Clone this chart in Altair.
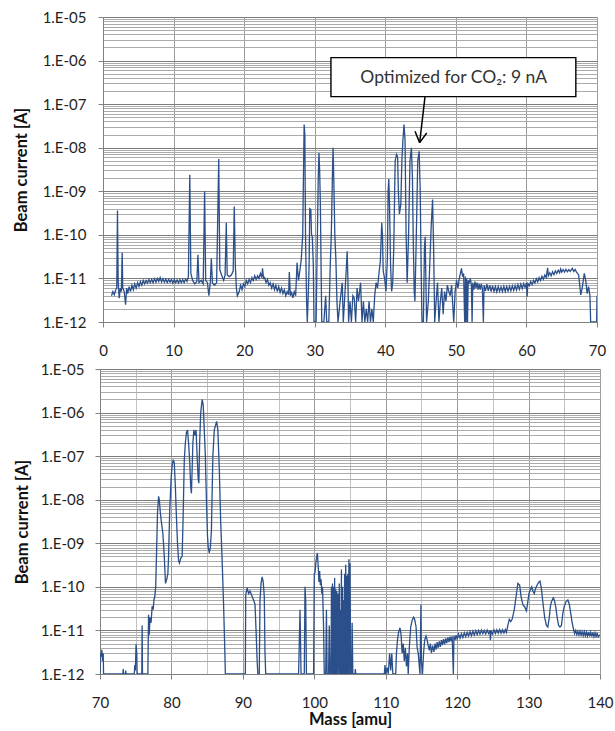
import altair as alt
import pandas as pd

# ---------------- data ----------------
# upper panel trace: (mass [amu], beam current [A])
top_trace = [
    (1.2, 4.0e-12), (1.4, 5.0e-12), (1.6, 4.2e-12), (1.8, 5.5e-12), (1.95, 6e-12), (2.05, 3.6e-10),
    (2.15, 8e-12), (2.3, 3.5e-12), (2.45, 6e-12), (2.6, 5e-12), (2.72, 3.9e-11), (2.8, 6e-12),
    (3.0, 5e-12), (3.2, 2.5e-12), (3.35, 6e-12), (3.5, 4.5e-12), (3.7, 6.5e-12), (3.9, 5e-12),
    (4.1, 7e-12), (4.3, 5.5e-12), (4.5, 7.5e-12), (4.7, 6e-12), (4.9, 8e-12), (5.1, 6.5e-12),
    (5.3, 8.5e-12), (5.5, 7e-12), (5.7, 9e-12), (5.9, 7.5e-12), (6.1, 9e-12), (6.3, 7.8e-12),
    (6.5, 9.5e-12), (6.7, 8e-12), (6.9, 9.5e-12), (7.1, 8e-12), (7.3, 9.8e-12), (7.5, 8.2e-12),
    (7.7, 1.0e-11), (7.9, 8.5e-12), (8.1, 1.05e-11), (8.3, 8.3e-12), (8.5, 9.8e-12), (8.7, 8.2e-12),
    (8.9, 9.6e-12), (9.1, 8e-12), (9.3, 9.5e-12), (9.5, 8.2e-12), (9.7, 9.4e-12), (9.9, 7.8e-12),
    (10.1, 9.5e-12), (10.3, 8e-12), (10.5, 9.2e-12), (10.7, 7.8e-12), (10.9, 9.4e-12), (11.1, 8e-12),
    (11.3, 9.3e-12), (11.5, 8e-12), (11.7, 9.6e-12), (11.9, 8.5e-12), (12.1, 1.1e-11), (12.3, 2.4e-9),
    (12.45, 1.3e-11), (12.7, 9e-12), (13.0, 7.5e-12), (13.3, 8.5e-12), (13.45, 3.5e-11), (13.6, 8e-12),
    (13.9, 9e-12), (14.2, 7.5e-12), (14.4, 1.0e-9), (14.55, 9e-12), (14.8, 8e-12), (15.0, 4e-12),
    (15.2, 8e-12), (15.35, 2.9e-11), (15.5, 8e-12), (15.8, 7e-12), (16.1, 8e-12), (16.4, 5.5e-9),
    (16.55, 1.6e-11), (16.8, 1.2e-11), (17.1, 9e-12), (17.3, 1.2e-11), (17.47, 1.9e-10), (17.6, 1.2e-11),
    (17.9, 1.1e-11), (18.2, 1.2e-11), (18.45, 1.5e-11), (18.6, 4.5e-10), (18.75, 2e-11), (18.9, 6e-12),
    (19.04, 4e-12), (19.3, 5e-12), (19.5, 7e-12), (19.7, 5.5e-12), (19.9, 7.5e-12), (20.1, 6.5e-12),
    (20.3, 9e-12), (20.5, 7.5e-12), (20.7, 9.5e-12), (20.9, 8e-12), (21.1, 1.05e-11), (21.3, 9e-12),
    (21.5, 1.15e-11), (21.7, 9.5e-12), (21.9, 1.15e-11), (22.1, 1e-11), (22.3, 1.3e-11), (22.5, 1.05e-11),
    (22.6, 1.7e-11), (22.75, 1e-11), (22.9, 1.05e-11), (23.1, 8e-12), (23.3, 9.5e-12), (23.5, 7e-12),
    (23.7, 8e-12), (23.9, 6e-12), (24.1, 7.5e-12), (24.3, 5.5e-12), (24.5, 7e-12), (24.7, 5e-12),
    (24.9, 6.5e-12), (25.1, 4.8e-12), (25.3, 6e-12), (25.5, 4.5e-12), (25.7, 5.5e-12), (25.9, 4e-12),
    (26.1, 5e-12), (26.3, 4.2e-12), (26.4, 1.4e-11), (26.55, 4e-12), (26.7, 5e-12), (26.9, 3.6e-12),
    (27.1, 5e-12), (27.3, 4e-12), (27.5, 2.3e-11), (27.7, 9e-12), (27.9, 1.5e-11), (28.1, 2.8e-11),
    (28.3, 1e-10), (28.5, 3.4e-8), (28.6, 2e-8), (28.7, 9e-11), (28.85, 3e-12), (28.95, 1e-12),
    (29.1, 5e-12), (29.2, 1.9e-11), (29.3, 4e-10), (29.45, 3.8e-10), (29.55, 1e-10), (29.66, 9e-11),
    (29.8, 2e-11), (29.9, 1e-12), (30.2, 1e-12), (30.35, 5e-11), (30.5, 2e-9), (30.6, 7.6e-9),
    (30.7, 3e-9), (30.8, 5e-10), (30.9, 2e-11), (31.0, 1e-12), (31.3, 1e-12), (31.55, 4e-12),
    (31.7, 1e-12), (32.0, 1e-12), (32.2, 2e-11), (32.35, 1e-10), (32.5, 2e-9), (32.6, 1e-8),
    (32.7, 2e-9), (32.85, 1e-10), (33.0, 2.7e-11), (33.15, 3e-12), (33.3, 1e-12), (33.6, 3e-12),
    (33.9, 8e-12), (34.05, 1e-12), (34.3, 5e-12), (34.5, 2e-11), (34.6, 4.2e-11), (34.7, 1e-11),
    (34.8, 1e-12), (35.0, 3e-12), (35.2, 1e-12), (35.4, 4e-12), (35.6, 3.5e-12), (35.8, 1e-12),
    (36.0, 6e-12), (36.2, 3e-12), (36.5, 8e-12), (36.7, 1e-12), (36.9, 3e-12), (37.1, 1e-12),
    (37.3, 2e-12), (37.5, 1e-12), (37.7, 3e-12), (37.9, 1e-12), (38.1, 2e-12), (38.3, 1e-12),
    (38.5, 4e-12), (38.7, 8e-12), (38.9, 6e-12), (39.1, 1.3e-11), (39.3, 2.5e-11), (39.5, 1.9e-10),
    (39.6, 1e-10), (39.7, 1.5e-11), (39.9, 1e-11), (40.1, 5e-12), (40.3, 3e-11), (40.4, 1e-9),
    (40.5, 1.9e-9), (40.6, 5e-10), (40.75, 2e-11), (40.9, 5e-12), (41.05, 8e-12), (41.2, 5e-11),
    (41.4, 5e-9), (41.6, 7e-9), (41.75, 6e-9), (41.85, 1e-9), (42.0, 3e-10), (42.2, 5e-10),
    (42.35, 5e-9), (42.5, 1.5e-8), (42.65, 3.4e-8), (42.8, 1.5e-8), (42.95, 1e-10), (43.1, 8e-12),
    (43.3, 1e-10), (43.5, 5e-9), (43.7, 1e-8), (43.85, 2e-9), (43.95, 1e-10), (44.1, 5e-12),
    (44.2, 3e-12), (44.4, 1e-10), (44.6, 5e-9), (44.8, 8.3e-9), (44.95, 1e-9), (45.1, 1e-11),
    (45.2, 1e-12), (45.4, 1e-12), (45.55, 5e-11), (45.65, 9e-11), (45.75, 1e-11), (45.85, 1e-12),
    (46.1, 3e-12), (46.3, 2e-11), (46.5, 1.5e-10), (46.7, 6.5e-10), (46.85, 5e-11), (47.0, 1e-12),
    (47.2, 3e-12), (47.4, 8e-12), (47.6, 1e-12), (47.8, 3e-12), (48.0, 6e-12), (48.2, 1.5e-12),
    (48.4, 5e-12), (48.6, 3e-12), (48.8, 7e-12), (49.0, 5e-12), (49.2, 4e-12), (49.4, 7e-12),
    (49.7, 1e-12), (49.9, 5e-12), (50.1, 9e-12), (50.3, 6e-12), (50.45, 9.3e-12), (50.6, 1.2e-11),
    (50.8, 1.7e-11), (50.95, 1.1e-11), (51.1, 1.3e-11), (51.25, 1e-12), (51.35, 1.1e-11), (51.45, 1e-12),
    (51.55, 1e-11), (51.65, 1e-12), (51.75, 9e-12), (51.9, 8e-12), (52.05, 1e-11), (52.2, 7e-12),
    (52.3, 1e-12), (52.4, 8e-12), (52.55, 5.5e-12), (52.7, 8.5e-12), (52.85, 6e-12), (53.0, 8e-12),
    (53.15, 5.5e-12), (53.3, 7.5e-12), (53.45, 5.5e-12), (53.6, 7.5e-12), (53.75, 6e-12), (53.9, 1e-12),
    (54.0, 7e-12), (54.2, 5.2e-12), (54.4, 7.4e-12), (54.6, 5.2e-12), (54.8, 7e-12), (55.0, 5e-12),
    (55.2, 6.8e-12), (55.4, 5e-12), (55.6, 6.5e-12), (55.8, 4.9e-12), (56.0, 6.5e-12), (56.2, 5e-12),
    (56.4, 6.4e-12), (56.6, 5e-12), (56.8, 6.6e-12), (57.0, 5e-12), (57.2, 6.5e-12), (57.4, 5.1e-12),
    (57.6, 6.6e-12), (57.8, 5.2e-12), (58.0, 6.8e-12), (58.2, 5.3e-12), (58.4, 6.9e-12), (58.6, 5.4e-12),
    (58.8, 7.2e-12), (59.0, 5.6e-12), (59.2, 7.4e-12), (59.4, 5.8e-12), (59.6, 7.6e-12), (59.8, 6.2e-12),
    (60.0, 7.8e-12), (60.1, 3.8e-12), (60.2, 7.6e-12), (60.4, 6.8e-12), (60.6, 8.5e-12), (60.8, 7.2e-12),
    (61.0, 9e-12), (61.2, 7.8e-12), (61.4, 9.8e-12), (61.6, 8.3e-12), (61.8, 1.05e-11), (62.0, 9e-12),
    (62.2, 1.12e-11), (62.4, 9.6e-12), (62.6, 1.2e-11), (62.8, 1.05e-11), (63.0, 1.75e-11), (63.1, 1.15e-11),
    (63.3, 1.35e-11), (63.5, 1.15e-11), (63.7, 1.42e-11), (63.9, 1.22e-11), (64.1, 1.5e-11), (64.3, 1.3e-11),
    (64.5, 1.55e-11), (64.7, 1.35e-11), (64.85, 1.65e-11), (65.0, 1.4e-11), (65.2, 1.6e-11), (65.4, 1.4e-11),
    (65.6, 1.62e-11), (65.8, 1.42e-11), (66.0, 1.6e-11), (66.2, 1.45e-11), (66.5, 1.7e-11), (66.7, 1.45e-11),
    (66.9, 1.6e-11), (67.1, 1.4e-11), (67.4, 1.2e-11), (67.7, 4.2e-12), (67.9, 6e-12), (68.2, 1.3e-11),
    (68.4, 9e-12), (68.6, 4.5e-12), (68.8, 6.5e-12), (69.0, 4e-12), (69.1, 1e-12), (69.95, 1e-12),
    (70.0, 4e-12),
]

# lower panel trace: (mass [amu], beam current [A])
bottom_trace = [
    (70.0, 1e-12), (70.05, 3e-12), (70.15, 2.5e-12), (70.25, 3.6e-12), (70.35, 2e-12), (70.45, 3e-12),
    (70.5, 1e-12), (73.2, 1e-12), (73.25, 1.3e-12), (73.3, 1e-12), (73.55, 1e-12), (73.6, 1.2e-12),
    (73.65, 1e-12), (74.8, 1e-12), (74.87, 1.6e-12), (74.95, 1.2e-12), (75.05, 4.8e-12), (75.15, 3e-12),
    (75.2, 1e-12), (75.85, 1e-12), (75.9, 1.3e-11), (75.95, 1e-12), (76.7, 1e-12), (76.8, 2.3e-11),
    (76.9, 8e-12), (77.0, 2e-11), (77.15, 1.5e-11), (77.3, 3.6e-11), (77.45, 3e-11), (77.55, 5e-11),
    (77.67, 6e-11), (77.8, 1e-10), (77.95, 1e-9), (78.05, 5e-9), (78.2, 1.2e-8), (78.3, 1e-8),
    (78.45, 5e-9), (78.6, 3e-9), (78.8, 1.7e-9), (79.0, 5e-10), (79.17, 1.2e-10), (79.35, 1.5e-10),
    (79.5, 2e-10), (79.6, 5e-10), (79.75, 5e-9), (79.95, 3e-8), (80.1, 6e-8), (80.25, 8.3e-8),
    (80.4, 7e-8), (80.55, 2e-8), (80.7, 4e-9), (80.85, 1e-9), (81.0, 4e-10), (81.13, 3.5e-10),
    (81.3, 4.5e-10), (81.5, 5e-10), (81.65, 5e-9), (81.8, 8e-8), (81.95, 2e-7), (82.1, 3.5e-7),
    (82.25, 4e-7), (82.4, 2e-7), (82.55, 8e-8), (82.7, 2e-8), (82.8, 1.4e-8), (82.9, 5e-8),
    (83.0, 2e-7), (83.14, 4e-7), (83.3, 3e-7), (83.45, 4e-7), (83.6, 1e-7), (83.75, 3e-8),
    (83.84, 2.4e-8), (83.95, 2e-7), (84.1, 1e-6), (84.3, 2e-6), (84.45, 1.5e-6), (84.6, 4e-7),
    (84.75, 1e-7), (84.9, 1e-8), (85.05, 1.5e-9), (85.15, 8e-10), (85.3, 6e-10), (85.45, 8e-10),
    (85.6, 2e-9), (85.8, 1e-7), (86.0, 4e-7), (86.33, 6.3e-7), (86.5, 4e-7), (86.7, 5e-8),
    (86.9, 3e-9), (87.1, 4e-10), (87.3, 4e-11), (87.45, 5e-12), (87.55, 1e-12), (90.35, 1e-12),
    (90.4, 6.6e-11), (90.6, 9.5e-11), (90.8, 7e-11), (91.0, 8e-11), (91.3, 6e-11), (91.5, 5e-11),
    (91.7, 4e-11), (91.85, 1e-11), (92.0, 2e-12), (92.1, 1e-12), (92.3, 1e-12), (92.4, 5e-11),
    (92.55, 1.2e-10), (92.7, 1.7e-10), (92.85, 1.3e-10), (93.0, 6e-11), (93.1, 3e-12), (93.2, 1e-12),
    (97.8, 1e-12), (97.87, 3e-12), (98.0, 3e-11), (98.05, 1e-11), (98.15, 1e-12), (98.6, 1e-12),
    (98.7, 1e-10), (98.8, 5e-11), (98.9, 1e-12), (99.9, 1e-12), (100.0, 2e-10), (100.1, 2.1e-10),
    (100.25, 4e-10), (100.43, 6e-10), (100.55, 3e-10), (100.65, 1.3e-10), (100.75, 2.3e-10), (100.85, 1.1e-10),
    (100.95, 1.5e-10), (101.05, 7e-11), (101.15, 1e-10), (101.3, 1.2e-11), (101.4, 1e-12), (101.6, 1e-12),
    (101.7, 3e-11), (101.8, 1e-12), (102.0, 1e-12), (102.1, 1.3e-11), (102.2, 1e-12), (102.35, 1e-12),
    (102.4, 1e-10), (102.45, 1e-12), (102.55, 1.2e-10), (102.6, 1e-12), (102.7, 1e-10), (102.75, 1e-12),
    (102.85, 1.6e-10), (102.9, 1e-12), (103.0, 9e-11), (103.05, 1e-12), (103.15, 8e-11), (103.2, 1e-12),
    (103.3, 7e-11), (103.35, 1e-12), (103.5, 1.2e-10), (103.55, 1e-12), (103.65, 3e-11), (103.7, 1e-12),
    (103.8, 2.5e-10), (103.85, 1e-12), (103.95, 1e-10), (104.0, 1e-12), (104.1, 5e-11), (104.15, 1e-12),
    (104.25, 2e-10), (104.3, 1e-12), (104.4, 3.2e-10), (104.45, 1e-12), (104.55, 1.8e-10), (104.6, 1e-12),
    (104.7, 2e-10), (104.75, 1e-12), (104.85, 4.3e-10), (104.9, 1e-12), (105.0, 3.5e-10), (105.1, 1e-12),
    (105.25, 1e-12), (105.3, 1.5e-11), (105.4, 1e-12), (105.7, 1e-12), (105.75, 1.3e-12), (105.8, 1e-12),
    (109.8, 1e-12), (109.9, 1.6e-12), (110.0, 1e-12), (110.2, 1.4e-12), (110.35, 1e-12), (110.55, 3e-12),
    (110.7, 1.2e-12), (110.85, 3e-12), (111.0, 1e-12), (111.4, 1e-12), (111.5, 3e-12), (111.65, 6e-12),
    (111.8, 9e-12), (112.0, 1.15e-11), (112.15, 8e-12), (112.3, 3e-12), (112.45, 5e-12), (112.6, 2e-12),
    (112.75, 4e-12), (112.9, 1.5e-12), (113.05, 3e-12), (113.15, 1e-12), (113.3, 4e-12), (113.5, 1.2e-11),
    (113.7, 1.7e-11), (113.9, 2e-11), (114.05, 1.8e-11), (114.25, 1.2e-11), (114.4, 4e-12), (114.55, 3e-12),
    (114.7, 1.5e-12), (114.8, 1e-12), (114.93, 3.9e-11), (115.0, 2e-12), (115.15, 1e-12), (115.3, 3e-12),
    (115.45, 6e-12), (115.64, 7.4e-12), (115.8, 6e-12), (115.95, 4.5e-12), (116.1, 3.5e-12), (116.25, 5e-12),
    (116.4, 3e-12), (116.57, 4.5e-12), (116.75, 3.2e-12), (116.9, 5e-12), (117.05, 3.6e-12), (117.2, 5.4e-12),
    (117.35, 4e-12), (117.5, 5.6e-12), (117.65, 4.2e-12), (117.8, 6e-12), (117.95, 4.6e-12), (118.1, 6.3e-12),
    (118.25, 4.8e-12), (118.4, 6.6e-12), (118.55, 5.1e-12), (118.7, 6.9e-12), (118.85, 5.4e-12), (119.0, 7.2e-12),
    (119.15, 5.6e-12), (119.3, 7.3e-12), (119.47, 1e-12), (119.55, 7.4e-12), (119.7, 6e-12), (119.85, 7.8e-12),
    (120.0, 6.3e-12), (120.2, 8.2e-12), (120.4, 6.6e-12), (120.6, 8.4e-12), (120.8, 6.9e-12), (121.0, 8.8e-12),
    (121.2, 7.2e-12), (121.4, 9e-12), (121.6, 7.4e-12), (121.8, 9.4e-12), (122.0, 7.6e-12), (122.2, 9.6e-12),
    (122.4, 7.8e-12), (122.6, 9.8e-12), (122.8, 8e-12), (123.0, 1.0e-11), (123.2, 8.2e-12), (123.4, 1.02e-11),
    (123.6, 8.4e-12), (123.8, 1.0e-11), (124.0, 8.3e-12), (124.2, 1.02e-11), (124.4, 8.5e-12), (124.6, 1.0e-11),
    (124.65, 6e-12), (124.75, 9.8e-12), (124.95, 8.3e-12), (125.15, 1.03e-11), (125.35, 8.5e-12), (125.55, 1.04e-11),
    (125.75, 8.6e-12), (125.95, 1.05e-11), (126.15, 8.6e-12), (126.35, 1.04e-11), (126.55, 8.7e-12), (126.75, 1.05e-11),
    (126.9, 9e-12), (127.1, 1.3e-11), (127.3, 1.8e-11), (127.5, 1.6e-11), (127.7, 1.8e-11), (128.0, 3e-11),
    (128.25, 6e-11), (128.5, 1.2e-10), (128.75, 1.1e-10), (128.95, 6e-11), (129.2, 3.9e-11), (129.45, 3.5e-11),
    (129.7, 2.8e-11), (129.85, 4e-11), (130.05, 7e-11), (130.3, 9e-11), (130.45, 1e-10), (130.6, 8e-11),
    (130.8, 7e-11), (130.95, 9e-11), (131.2, 1.1e-10), (131.45, 1.3e-10), (131.6, 1.35e-10), (131.8, 9e-11),
    (132.0, 4.5e-11), (132.25, 2e-11), (132.5, 1.3e-11), (132.7, 1.2e-11), (132.9, 2e-11), (133.05, 3.5e-11),
    (133.2, 4.5e-11), (133.45, 5.6e-11), (133.6, 5e-11), (133.8, 3.5e-11), (134.0, 2e-11), (134.2, 1.3e-11),
    (134.4, 1.2e-11), (134.6, 1.3e-11), (134.8, 2.5e-11), (135.0, 3.6e-11), (135.25, 4.6e-11), (135.5, 5e-11),
    (135.7, 4e-11), (135.9, 2.5e-11), (136.1, 1.5e-11), (136.3, 1.05e-11), (136.45, 8.5e-12), (136.6, 1.0e-11),
    (136.75, 8e-12), (136.9, 9.6e-12), (137.05, 7.8e-12), (137.2, 9.6e-12), (137.35, 7.8e-12), (137.5, 9.4e-12),
    (137.65, 7.6e-12), (137.8, 9.4e-12), (137.95, 7.5e-12), (138.1, 9.2e-12), (138.25, 7.4e-12), (138.4, 9.2e-12),
    (138.55, 7.3e-12), (138.7, 9e-12), (138.85, 7.2e-12), (139.0, 9e-12), (139.15, 7.2e-12), (139.3, 8.8e-12),
    (139.45, 7e-12), (139.6, 8.8e-12), (139.75, 7.1e-12), (140.0, 8e-12),
]

# axes
y_exponents = [-12, -11, -10, -9, -8, -7, -6]
y_multipliers = [1, 2, 3, 4, 5, 6, 7, 8, 9]
top_x_ticks = [0, 5, 10, 15, 20, 25, 30, 35, 40, 45, 50, 55, 60, 65, 70]
bottom_x_ticks = [70, 75, 80, 85, 90, 95, 100, 105, 110, 115, 120, 125, 130, 135, 140]
y_title = "Beam current [A]"
x_title = "Mass [amu]"

# annotation (in data units of the upper panel)
note_text = ["Optimized for CO\u2082: 9 nA"]
note_box = {"mass": [32.3], "mass2": [67.0], "current": [1.17e-6], "current2": [1.49e-7]}
note_anchor = {"mass": [49.7], "current": [4.0e-7]}
arrow_segments = {
    "mass": [45.63, 44.87, 44.87],
    "current": [1.48e-7, 1.31e-8, 1.31e-8],
    "mass2": [44.87, 44.21, 45.87],
    "current2": [1.31e-8, 2.38e-8, 2.18e-8],
}

# ---------------- chart ----------------
LINE_COLOR = "#2A4F8A"
FONT = "Lato"

y_values = [m * 10.0 ** e for e in y_exponents for m in y_multipliers] + [1e-5]
decade_test = "abs(log(datum.value)/LN10 - round(log(datum.value)/LN10)) < 0.01"
y_label_expr = (
    f"{decade_test} ? '1.E-' + (round(-log(datum.value)/LN10) < 10 ? '0' : '') "
    "+ round(-log(datum.value)/LN10) : ''"
)


def y_enc(label_padding, title_padding):
    return alt.Y(
        "current:Q",
        scale=alt.Scale(type="log", domain=[1e-12, 1e-5], nice=False),
        title=y_title,
        axis=alt.Axis(
            values=y_values,
            labelExpr=y_label_expr,
            labelOverlap=False,
            labelBound=False,
            grid=True,
            gridColor={"condition": {"test": decade_test, "value": "#7C7C7C"}, "value": "#ABABAB"},
            gridWidth=1,
            tickSize=5,
            tickOpacity={"condition": {"test": decade_test, "value": 1}, "value": 0},
            tickColor="#808080",
            domainColor="#808080",
            labelPadding=label_padding,
            titlePadding=title_padding,
        ),
    )


def x_enc(domain, ticks, title):
    return alt.X(
        "mass:Q",
        scale=alt.Scale(domain=domain, nice=False, zero=False),
        title=title,
        axis=alt.Axis(
            values=ticks,
            labelExpr="datum.value % 10 == 0 ? datum.label : ''",
            labelOverlap=False,
            labelFlush=False,
            grid=True,
            gridColor={"condition": {"test": "datum.value % 10 == 0", "value": "#9C9C9C"}, "value": "#C2C2C2"},
            tickSize=5,
            tickOpacity={"condition": {"test": "datum.value % 10 == 0", "value": 1}, "value": 0},
            tickColor="#808080",
            domainColor="#808080",
            labelPadding=16,
            titlePadding=1,
        ),
    )


top_df = pd.DataFrame(top_trace, columns=["mass", "current"])
bottom_df = pd.DataFrame(bottom_trace, columns=["mass", "current"])

top_line = alt.Chart(top_df).mark_line(color=LINE_COLOR, strokeWidth=1.3, clip=True).encode(
    x=x_enc([0, 70], top_x_ticks, None), y=y_enc(12, 13)
)
box = alt.Chart(pd.DataFrame(note_box)).mark_rect(
    fill="white", stroke="black", strokeWidth=1.4
).encode(x="mass:Q", x2="mass2:Q", y="current:Q", y2="current2:Q")
label = alt.Chart(pd.DataFrame({**note_anchor, "text": note_text})).mark_text(
    font=FONT, fontSize=17.5, color="#333333", align="center", baseline="middle"
).encode(x="mass:Q", y="current:Q", text="text:N")
arrow = alt.Chart(pd.DataFrame(arrow_segments)).mark_rule(
    color="black", strokeWidth=1.5
).encode(x="mass:Q", x2="mass2:Q", y="current:Q", y2="current2:Q")

top = alt.layer(top_line, arrow, box, label).properties(width=494, height=305)

bottom = alt.Chart(bottom_df).mark_line(color=LINE_COLOR, strokeWidth=1.3, clip=True).encode(
    x=x_enc([70, 140], bottom_x_ticks, x_title), y=y_enc(11, 10)
).properties(width=500, height=305)

chart = (
    alt.vconcat(top, bottom, spacing=47, bounds="flush", center=True)
    .properties(padding={"left": 13, "top": 10, "right": 0, "bottom": 2}, background="white")
    .configure_view(stroke=None)
    .configure_axis(
        labelFont=FONT,
        labelFontSize=15,
        labelColor="#1E1E1E",
        titleFont=FONT,
        titleFontSize=16.5,
        titleFontWeight="bold",
        titleColor="#111111",
    )
)

chart.save("out.html", embed_options={"renderer": "svg", "actions": False})
